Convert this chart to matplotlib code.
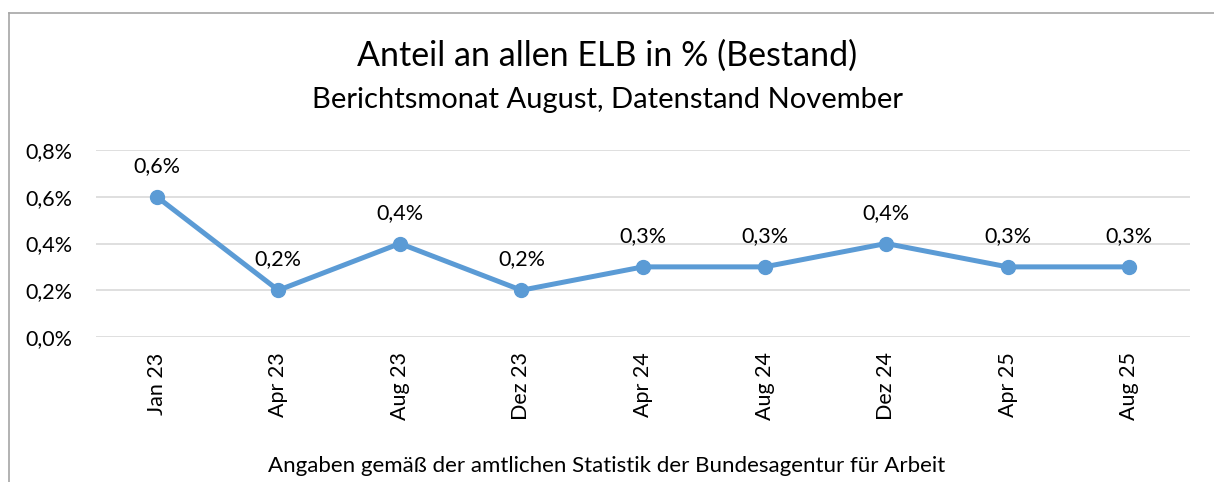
#!/usr/bin/env python3
"""Anteil an allen ELB in % (Bestand) -- line chart recreation."""

import numpy as np
import matplotlib.pyplot as plt
from matplotlib.lines import Line2D
from matplotlib.ticker import FuncFormatter

plt.rcParams["font.family"] = ["Lato", "DejaVu Sans"]

# -- data ---------------------------------------------------------------------
months = ["Jan 23", "Apr 23", "Aug 23", "Dez 23", "Apr 24",
          "Aug 24", "Dez 24", "Apr 25", "Aug 25"]
share = [0.6, 0.2, 0.4, 0.2, 0.3, 0.3, 0.4, 0.3, 0.3]
y_ticks = [0.0, 0.2, 0.4, 0.6, 0.8]

line_blue = "#5B9BD5"
text_col = "#000000"

# -- figure -------------------------------------------------------------------
fig = plt.figure(figsize=(12.14, 4.82), dpi=100)
ax = fig.add_axes([96 / 1214, 1 - 337 / 482, (1190 - 96) / 1214, (337 - 150) / 482])

x = np.arange(len(months))
ax.plot(x, share, color=line_blue, linewidth=3.6, marker="o",
        markersize=10, solid_capstyle="round", zorder=3)

for xi, v in zip(x, share):
    ax.annotate(f"{v:.1f}%".replace(".", ","), (xi, v), xytext=(0, 15),
                textcoords="offset points", ha="center", va="bottom",
                fontsize=15.5, color=text_col)

ax.set_xlim(-0.5, len(months) - 0.5)
ax.set_ylim(0, 0.8)
ax.set_yticks(y_ticks)
ax.yaxis.set_major_formatter(FuncFormatter(lambda v, _: f"{v:.1f}%".replace(".", ",")))
ax.set_xticks(x)
ax.set_xticklabels(months, rotation=90)
ax.tick_params(axis="both", length=0, labelsize=15.5, colors=text_col)
ax.tick_params(axis="y", pad=17)
ax.tick_params(axis="x", pad=11)
ax.grid(axis="y", color="#D9D9D9", linewidth=1.2)
ax.set_axisbelow(True)
for s in ax.spines.values():
    s.set_visible(False)

# titles and footer
fig.text(0.5, 1 - 56 / 482, "Anteil an allen ELB in % (Bestand)",
         ha="center", va="center", fontsize=24.5, color=text_col)
fig.text(0.5, 1 - 100 / 482, "Berichtsmonat August, Datenstand November",
         ha="center", va="center", fontsize=21, color=text_col)
fig.text(0.5, 1 - 466 / 482,
         "Angaben gemäß der amtlichen Statistik der Bundesagentur für Arbeit",
         ha="center", va="center", fontsize=16, color=text_col)

# chart frame (left and top edges visible)
fig.add_artist(Line2D([8.5 / 1214, 8.5 / 1214], [0, 1 - 12.5 / 482],
                      color="#A6A6A6", linewidth=1.2))
fig.add_artist(Line2D([8.5 / 1214, 1], [1 - 12.5 / 482, 1 - 12.5 / 482],
                      color="#A6A6A6", linewidth=1.2))

fig.savefig("out.png", dpi=100)
plt.close(fig)
